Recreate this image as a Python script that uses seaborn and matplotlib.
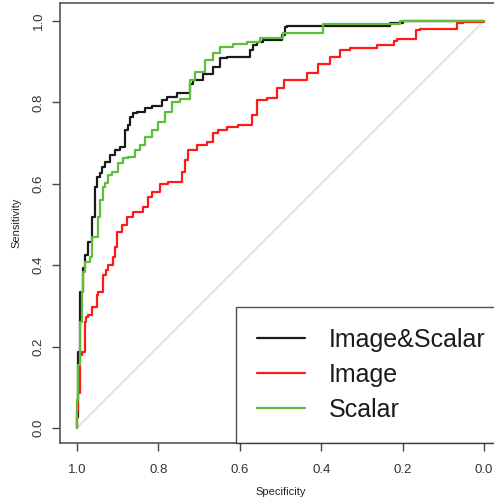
import matplotlib
matplotlib.use("Agg")
import matplotlib.pyplot as plt
import seaborn as sns
import pandas as pd

# ---- data ----
labels = ["Image&Scalar", "Image", "Scalar"]
colors = ["#1a1a1a", "#ff1a1a", "#5cbf3a"]

combined_spec = [1.000, 0.998, 0.993, 0.985, 0.980, 0.973, 0.973, 0.963, 0.963, 0.956,
                 0.951, 0.951, 0.943, 0.939, 0.931, 0.919, 0.907, 0.894, 0.882, 0.875,
                 0.870, 0.862, 0.853, 0.833, 0.816, 0.791, 0.779, 0.754, 0.722, 0.715,
                 0.690, 0.666, 0.649, 0.631, 0.575, 0.568, 0.558, 0.543, 0.496, 0.489,
                 0.484, 0.231, 0.199, 0.199, 0.000]
combined_sens = [0.000, 0.027, 0.187, 0.334, 0.393, 0.425, 0.457, 0.457, 0.504, 0.518,
                 0.592, 0.614, 0.617, 0.627, 0.641, 0.654, 0.671, 0.683, 0.690, 0.732,
                 0.744, 0.764, 0.774, 0.776, 0.786, 0.791, 0.806, 0.813, 0.823, 0.845,
                 0.855, 0.870, 0.887, 0.909, 0.912, 0.929, 0.941, 0.948, 0.953, 0.966,
                 0.985, 0.988, 0.995, 1.000, 1.000]

image_spec = [1.000, 0.998, 0.993, 0.988, 0.980, 0.978, 0.973, 0.963, 0.951, 0.948,
              0.936, 0.929, 0.924, 0.912, 0.907, 0.902, 0.889, 0.877, 0.862, 0.838,
              0.826, 0.816, 0.796, 0.776, 0.742, 0.735, 0.727, 0.705, 0.681, 0.666,
              0.654, 0.631, 0.604, 0.570, 0.558, 0.533, 0.509, 0.491, 0.484, 0.435,
              0.408, 0.378, 0.354, 0.329, 0.263, 0.221, 0.214, 0.167, 0.157, 0.066,
              0.052, 0.000, 0.000]
image_sens = [0.000, 0.044, 0.086, 0.179, 0.187, 0.260, 0.273, 0.278, 0.297, 0.327,
              0.334, 0.376, 0.388, 0.400, 0.420, 0.445, 0.482, 0.499, 0.518, 0.531,
              0.543, 0.568, 0.580, 0.600, 0.604, 0.629, 0.658, 0.683, 0.695, 0.703,
              0.725, 0.732, 0.740, 0.744, 0.769, 0.806, 0.811, 0.835, 0.855, 0.855,
              0.872, 0.894, 0.912, 0.929, 0.934, 0.941, 0.951, 0.956, 0.978, 0.980,
              0.995, 0.998, 1.000]

scalar_spec = [1.000, 0.998, 0.993, 0.988, 0.985, 0.980, 0.968, 0.963, 0.948, 0.943,
               0.936, 0.931, 0.924, 0.914, 0.899, 0.887, 0.875, 0.857, 0.845, 0.833,
               0.816, 0.801, 0.784, 0.767, 0.747, 0.722, 0.710, 0.686, 0.666, 0.649,
               0.617, 0.582, 0.550, 0.494, 0.484, 0.396, 0.396, 0.273, 0.206, 0.206,
               0.000]
scalar_sens = [0.000, 0.069, 0.155, 0.260, 0.334, 0.383, 0.408, 0.420, 0.469, 0.518,
               0.560, 0.592, 0.602, 0.622, 0.629, 0.651, 0.663, 0.666, 0.683, 0.695,
               0.715, 0.732, 0.752, 0.776, 0.801, 0.808, 0.855, 0.875, 0.904, 0.921,
               0.936, 0.943, 0.948, 0.958, 0.971, 0.971, 0.990, 0.993, 0.993, 1.000,
               1.000]

diag_spec = [1.0, 0.0]
diag_sens = [0.0, 1.0]

x_ticks = [1.0, 0.8, 0.6, 0.4, 0.2, 0.0]
y_ticks = [0.0, 0.2, 0.4, 0.6, 0.8, 1.0]
tick_labels_x = ["1.0", "0.8", "0.6", "0.4", "0.2", "0.0"]
tick_labels_y = ["0.0", "0.2", "0.4", "0.6", "0.8", "1.0"]

# ---- style ----
sns.set_style("white")
plt.rcParams["font.family"] = ["Liberation Sans", "DejaVu Sans"]

fig = plt.figure(figsize=(4.94, 5.0), dpi=100)
ax = fig.add_axes([60 / 494, 1 - 443 / 500, 441 / 494, 440 / 500])

sns.lineplot(x=diag_spec, y=diag_sens, ax=ax, color="#d9d9d9", lw=1.0,
             sort=False, estimator=None, legend=False)

series = [(combined_spec, combined_sens), (image_spec, image_sens), (scalar_spec, scalar_sens)]
for (sx, sy), lab, col in zip(series, labels, colors):
    df = pd.DataFrame({"Specificity": sx, "Sensitivity": sy})
    sns.lineplot(data=df, x="Specificity", y="Sensitivity", ax=ax, color=col, lw=1.6,
                 sort=False, estimator=None, drawstyle="steps-pre", label=lab)

ax.set_xlim(1.0418, -0.0418)
ax.set_ylim(-0.037, 1.044)

ax.set_xticks(x_ticks)
ax.set_xticklabels(tick_labels_x, fontsize=9.5, color="#333333")
ax.set_yticks(y_ticks)
ax.set_yticklabels(tick_labels_y, fontsize=9.5, color="#333333", rotation=90, va="center")
ax.tick_params(axis="both", which="major", bottom=True, left=True, top=False, right=False,
               direction="out", length=6, width=1.0, color="#444444")
ax.tick_params(axis="x", pad=9)
ax.tick_params(axis="y", pad=5)

for s in ax.spines.values():
    s.set_color("#555555")
    s.set_linewidth(1.2)

ax.set_xlabel("Specificity", fontsize=8, color="#222222", labelpad=8)
ax.set_ylabel("Sensitivity", fontsize=8, color="#222222", labelpad=8)

leg = ax.legend(loc="lower left", bbox_to_anchor=((236 - 60) / 441, 0.0),
                borderaxespad=0.0, frameon=True, fancybox=False, fontsize=18,
                handlelength=1.9, handletextpad=0.95, borderpad=0.85, labelspacing=0.44)
leg.get_frame().set_edgecolor("#222222")
leg.get_frame().set_linewidth(1.0)
for t in leg.get_texts():
    t.set_color("#1a1a1a")
for h in leg.get_lines():
    h.set_linewidth(1.6)

fig.savefig("out.png", dpi=100)
